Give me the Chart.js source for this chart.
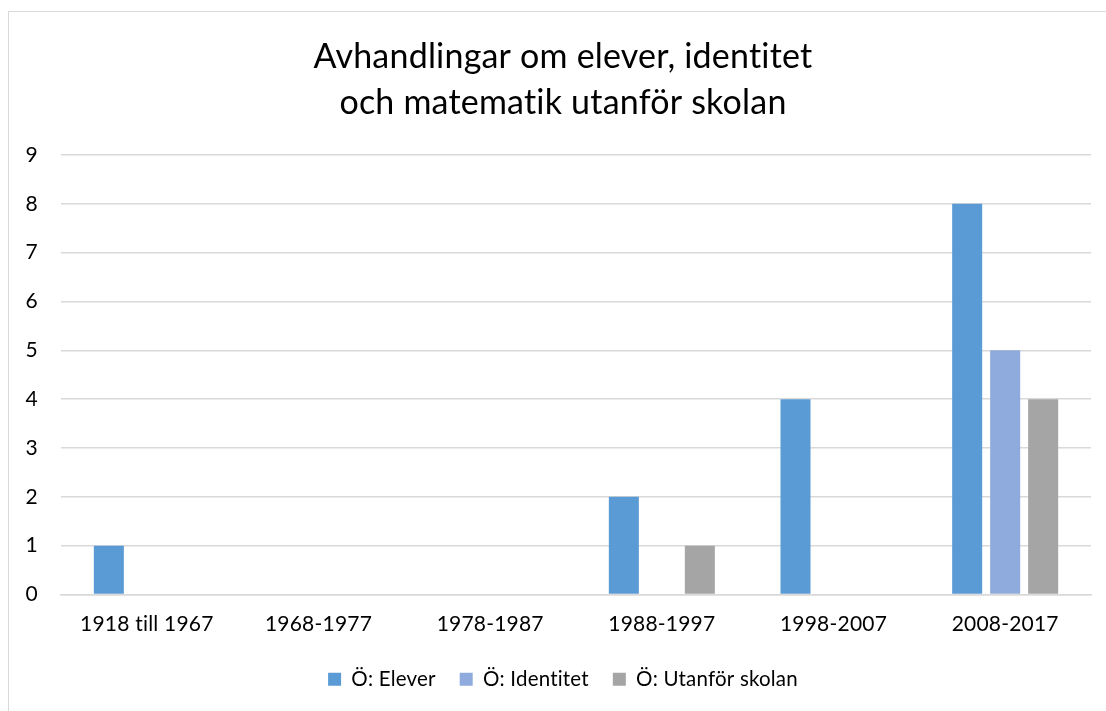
<!DOCTYPE html>
<html>
<head>
<meta charset="utf-8">
<script src="https://cdn.jsdelivr.net/npm/chart.js@4/dist/chart.umd.min.js"></script>
<style>
  html, body { margin: 0; padding: 0; background: #fff; }
  #frame { position: absolute; left: 8px; top: 11px; width: 1200px; height: 800px; border: 1px solid #d9d9d9; box-sizing: border-box; }
  #wrap { position: absolute; left: 0; top: 0; width: 1106px; height: 711px; }
</style>
</head>
<body>
<div id="frame"></div>
<div id="wrap"><canvas id="chart"></canvas></div>
<script>
// periods and counts
let periods = ['1918 till 1967', '1968-1977', '1978-1987', '1988-1997', '1998-2007', '2008-2017'];
let elever = [1, 0, 0, 2, 4, 8];
let identitet = [0, 0, 0, 0, 0, 5];
let utanfor = [0, 0, 0, 1, 0, 4];
let seriesNames = ['Ö: Elever', 'Ö: Identitet', 'Ö: Utanför skolan'];
let yTicks = [0, 1, 2, 3, 4, 5, 6, 7, 8, 9];

let fontFamily = 'Lato, "Open Sans", sans-serif';
let chartElement = document.getElementById('chart').getContext('2d');

// a tiny letter spacing keeps Lato from using its "ti" ligature;
// resizing the canvas resets the context, so set it again each pass
let noLigatures = {
    id: 'noLigatures',
    beforeLayout: function (chart) { chart.ctx.letterSpacing = '0.2px'; },
    beforeDraw: function (chart) { chart.ctx.letterSpacing = '0.2px'; }
};

function makeDataset(label, values, colour) {
    return {
        label: label,
        data: values,
        backgroundColor: colour,
        borderWidth: 0,
        categoryPercentage: 0.664,
        barPercentage: 0.79
    };
}

let chart = new Chart(chartElement, {
    type: 'bar',
    data: {
        labels: periods,
        datasets: [
            makeDataset(seriesNames[0], elever, '#5b9bd5'),
            makeDataset(seriesNames[1], identitet, '#8faadc'),
            makeDataset(seriesNames[2], utanfor, '#a5a5a5')
        ]
    },
    plugins: [noLigatures],
    options: {
        responsive: true,
        maintainAspectRatio: false,
        animation: false,
        layout: { padding: { left: 24, right: 4, top: 14, bottom: 11.5 } },
        plugins: {
            title: {
                display: true,
                text: ['Avhandlingar om elever, identitet', 'och matematik utanför skolan'],
                color: '#000',
                font: { family: fontFamily, size: 34, weight: 'normal', lineHeight: 1.353 },
                padding: { top: 20, bottom: 29 }
            },
            legend: {
                position: 'bottom',
                labels: {
                    color: '#000',
                    font: { family: fontFamily, size: 20.5 },
                    boxWidth: 13,
                    boxHeight: 13,
                    padding: 24
                }
            },
            tooltip: { enabled: false }
        },
        scales: {
            x: {
                afterFit: function (scale) { scale.height = 50.5; },
                grid: { display: false, drawTicks: false },
                border: { display: true, color: '#d9d9d9', width: 1.5 },
                ticks: { color: '#000', font: { family: fontFamily, size: 21 }, padding: 17, maxRotation: 0 }
            },
            y: {
                min: 0,
                max: 9,
                afterBuildTicks: function (scale) {
                    scale.ticks = yTicks.map(function (v) { return { value: v }; });
                },
                afterFit: function (scale) { scale.width = 37; },
                grid: { color: '#d9d9d9', lineWidth: 1.5, drawTicks: false },
                border: { display: false },
                ticks: { color: '#000', font: { family: fontFamily, size: 21 }, padding: 23 }
            },
            // empty right-hand strip so the title sits where the reference has it
            spacer: {
                position: 'right',
                afterFit: function (scale) { scale.width = 11; },
                grid: { display: false, drawTicks: false },
                border: { display: false },
                ticks: { display: false }
            }
        }
    }
});
</script>
</body>
</html>
